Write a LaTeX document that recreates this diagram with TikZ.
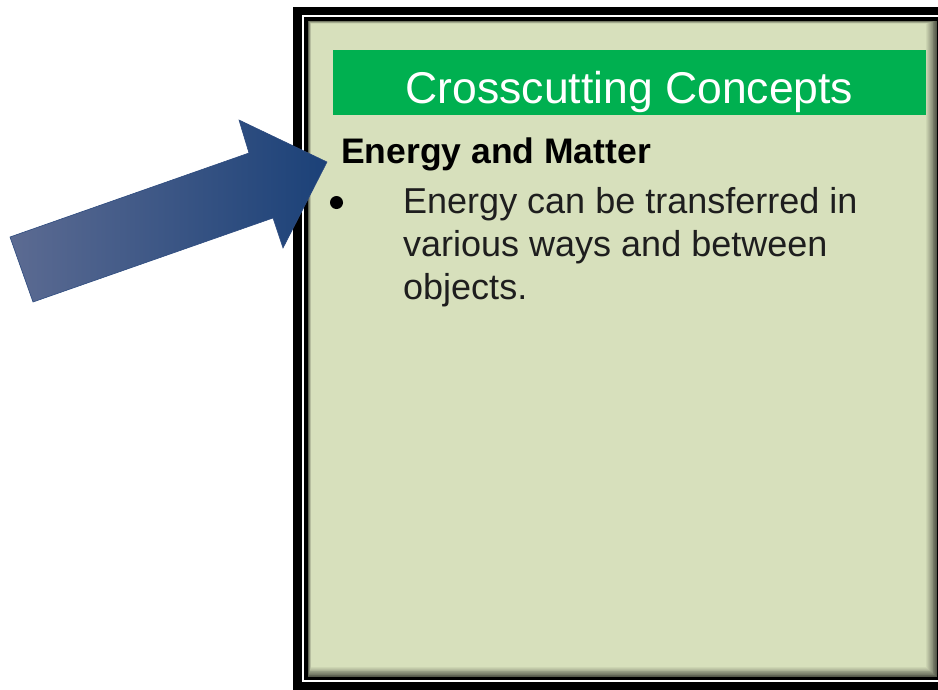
\documentclass[tikz,border=0pt]{standalone}
\usepackage{fontspec}
\setmainfont{Liberation Sans}
\definecolor{panel}{HTML}{D7E0BC}
\definecolor{barg}{HTML}{00B050}
\definecolor{arrowL}{HTML}{5C6B92}
\definecolor{arrowR}{HTML}{1B4178}
\definecolor{arrowE}{HTML}{2C4A7E}
\definecolor{txt}{HTML}{1E1E1E}
\tikzset{
  headtext/.style={inner sep=0pt, text=white, font=\fontsize{44.5}{50}\selectfont},
  boldtext/.style={inner sep=0pt, text=black, font=\fontsize{35.5}{42}\selectfont\bfseries},
  bodytext/.style={inner sep=0pt, text=txt, font=\fontsize{36}{43}\selectfont},
}
\begin{document}
\begin{tikzpicture}[x=1pt,y=-1pt]
\useasboundingbox (0,0) rectangle (938,689);
\fill[white] (0,0) rectangle (938,689);
% frame
\fill[black] (293,7) rectangle (945,695);
\fill[white] (301.5,15) rectangle (945,682);
\fill[black] (304,17) rectangle (945,679.5);
% panel with inner shadow
\foreach \k in {0,...,12}{
  \pgfmathsetmacro{\p}{40+5*\k}
  \pgfmathsetmacro{\xa}{308+0.25*\k}
  \pgfmathsetmacro{\ya}{20.5+0.25*\k}
  \pgfmathsetmacro{\xb}{937-0.9*\k}
  \pgfmathsetmacro{\yb}{677-0.8*\k}
  \fill[panel!\p!black] (\xa,\ya) rectangle (\xb,\yb);
}
% header bar
\node[fill=barg, inner sep=0pt, minimum width=593pt, minimum height=65pt, anchor=north west] (bar) at (333,50) {};
\node[headtext, anchor=base] (head) at (629.5,103) {Crosscutting Concepts};
% texts
\node[boldtext, anchor=base west] (sub) at (341,163) {Energy and Matter};
\node[circle, fill=black, inner sep=0pt, minimum size=13pt] (bullet) at (336.5,202.5) {};
\node[bodytext, anchor=base west] (l1) at (403,213) {Energy can be transferred in};
\node[bodytext, anchor=base west] (l2) at (403,256.5) {various ways and between};
\node[bodytext, anchor=base west] (l3) at (403,299) {objects.};
% arrow
\shade[left color=arrowL, right color=arrowR, draw=arrowE, line width=0.6pt, line join=miter]
  (10,237) -- (249,153) -- (239,120) -- (327,162) -- (283,248) -- (273,218) -- (33,302) -- cycle;
\end{tikzpicture}
\end{document}
